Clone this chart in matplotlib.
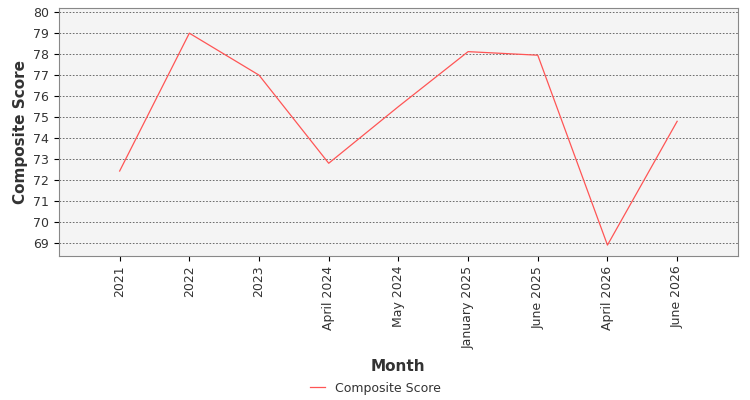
import matplotlib
matplotlib.use("Agg")
import matplotlib.pyplot as plt

months = ["2021", "2022", "2023", "April 2024", "May 2024", "January 2025", "June 2025", "April 2026", "June 2026"]
scores = [72.43, 79.0, 77.0, 72.8, 75.5, 78.12, 77.95, 68.9, 74.8]
yticks = list(range(69, 81))

fig = plt.figure(figsize=(7.5, 4), dpi=100)
ax = fig.add_axes([0.0787, 0.36, 0.905, 0.62])
ax.set_facecolor("#f4f4f4")
x = list(range(len(months)))
ax.plot(x, scores, color="#ff5555", lw=0.9, label="Composite Score")
ax.set_xlim(-0.87, 8.87)
ax.set_ylim(68.38, 80.2)
ax.set_yticks(yticks)
ax.set_xticks(x)
ax.set_xticklabels(months, rotation=90, fontsize=9, color="#333333")
ax.tick_params(axis="y", labelsize=9, labelcolor="#333333")
ax.grid(axis="y", color="#555555", linestyle=(0, (2, 2)), lw=0.6)
for s in ax.spines.values():
    s.set_color("#888888")
ax.set_xlabel("Month", fontsize=11, fontweight="bold", color="#333333", labelpad=7)
ax.set_ylabel("Composite Score", fontsize=11, fontweight="bold", color="#333333")
fig.legend(loc="lower center", bbox_to_anchor=(0.5, -0.015), frameon=False, fontsize=9,
           handlelength=1.2, labelcolor="#333333")
fig.savefig("out.png")
